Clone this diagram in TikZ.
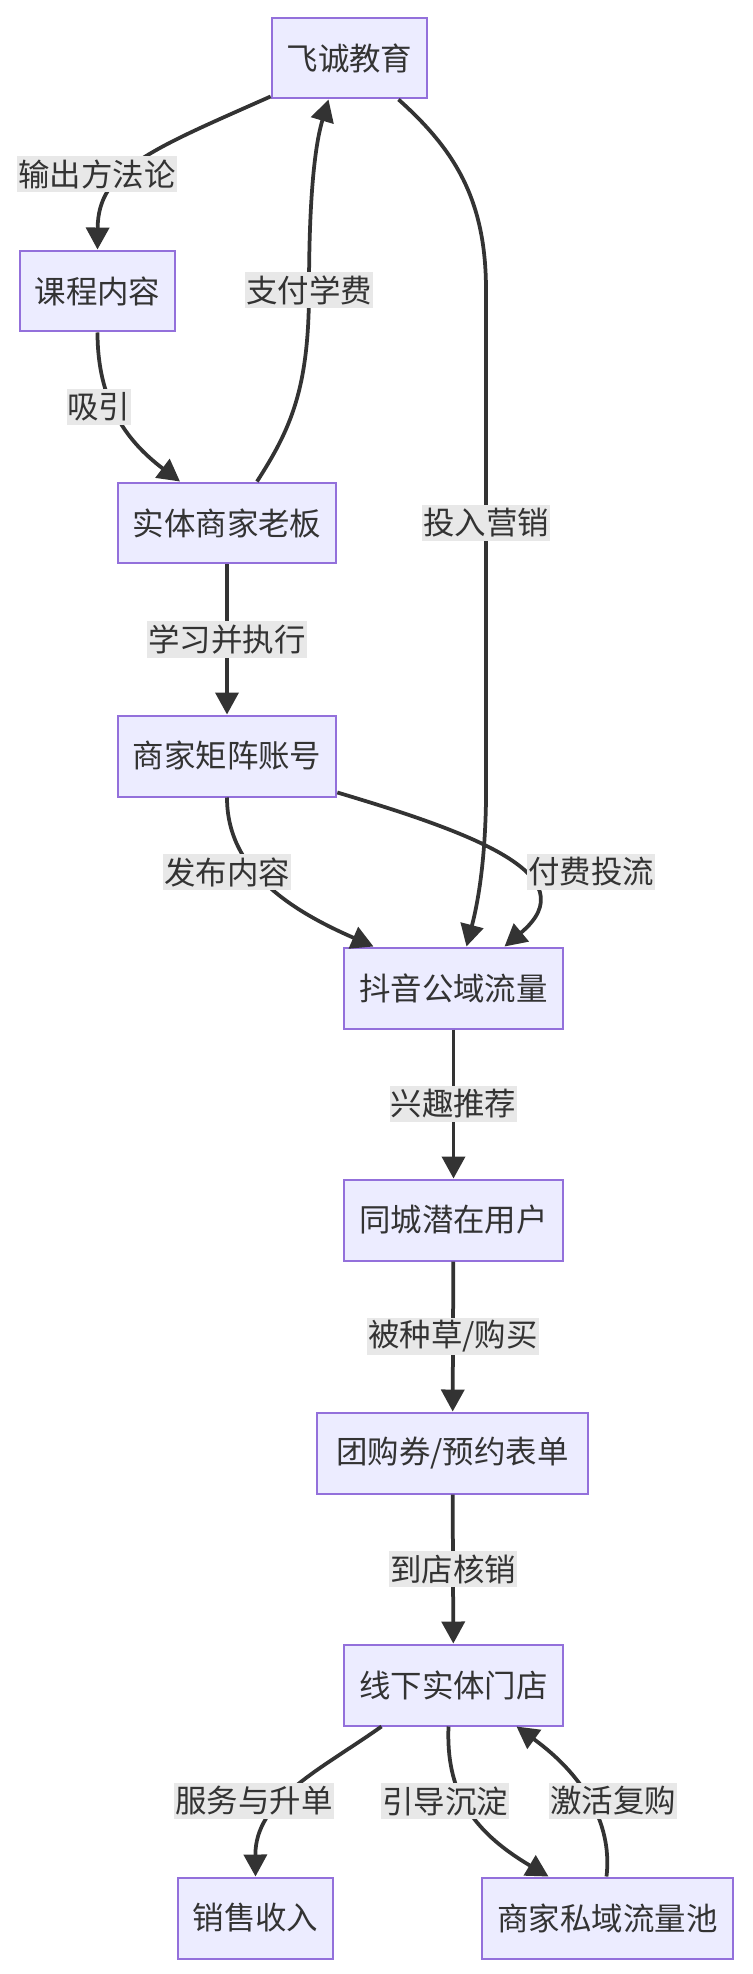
\documentclass[tikz,border=0pt]{standalone}
\usepackage{fontspec}
\setmainfont{Noto Sans CJK SC}
\usetikzlibrary{positioning,arrows.meta,calc}
\definecolor{boxfill}{HTML}{ECECFF}
\definecolor{boxline}{HTML}{9370DB}
\definecolor{inkgray}{HTML}{333333}
\definecolor{labelgray}{HTML}{E8E8E8}

\begin{document}
\begin{tikzpicture}[
  x=0.02cm, y=-0.02cm,
  box/.style={rectangle, draw=boxline, fill=boxfill, line width=0.04cm,
              inner xsep=0.3cm, minimum height=1.62cm, text=inkgray,
              font=\fontsize{17.9}{20}\selectfont},
  lbl/.style={rectangle, fill=labelgray, inner xsep=0.02cm, inner ysep=0pt,
              minimum height=0.73cm, text=inkgray,
              font=\fontsize{17.9}{20}\selectfont},
  arr/.style={-{Triangle[length=0.44cm,width=0.46cm]}, line width=0.075cm, draw=inkgray}
]
\useasboundingbox (0,0) rectangle (752,1974);

\node[box] (fc) at (349.5,58) {飞诚教育};
\node[box] (kc) at (97.5,291) {课程内容};
\node[box] (ss) at (227,523) {实体商家老板};
\node[box] (mz) at (227,756) {商家矩阵账号};
\node[box] (dy) at (453.5,988) {抖音公域流量};
\node[box] (tc) at (453.5,1220) {同城潜在用户};
\node[box, minimum width=5.42cm] (tg) at (452.5,1453) {团购券/预约表单};
\node[box] (xx) at (453.5,1685) {线下实体门店};
\node[box] (xs) at (255.5,1918) {销售收入};
\node[box] (sy) at (607.5,1918) {商家私域流量池};

\coordinate (l2) at (309,290);
\coordinate (l4) at (486,523);
\coordinate (b4) at (486,290);
\coordinate (b4e) at (486,800);

\draw[arr] ($(fc.south west)+(0,-3)$) .. controls (150,150) and (98,170) .. (kc.north);
\draw[arr] ($(ss.north)+(30,0)$) .. controls (290,430) and (309,390) .. (l2)
  .. controls (309,175) and (318,135) .. ($(fc.south)+(-21,0)$);
\draw[arr] (kc.south) .. controls (97.5,400) and (125,440) .. ($(ss.north)+(-47,0)$);
\draw[arr] ($(fc.south)+(49,0)$) .. controls (455,150) and (486,200) .. (b4) -- (l4) -- (b4e)
  .. controls (485,870) and (476,910) .. ($(dy.north)+(13,0)$);
\draw[arr] (ss) -- (mz);
\draw[arr] (mz.south) .. controls (227,870) and (290,910) .. ($(dy.north)+(-80,0)$);
\draw[arr] ($(mz.south east)+(0,-5)$) .. controls (470,832) and (590,875) .. ($(dy.north)+(51,0)$);
\draw[arr] (dy) -- (tc);
\draw[arr] (tc) -- (tg);
\draw[arr] (tg) -- (xx);
\draw[arr] ($(xx.south)+(-72,0)$) .. controls (320,1770) and (255,1800) .. (xs.north);
\draw[arr] ($(xx.south)+(-5,0)$) .. controls (446,1790) and (470,1830) .. ($(sy.north)+(-59,0)$);
\draw[arr] ($(sy.north)+(-1,0)$) .. controls (612,1830) and (590,1780) .. ($(xx.south)+(63,0)$);

\node[lbl] (t1) at (97,174) {输出方法论};
\node[lbl] (t2) at (l2) {支付学费};
\node[lbl] (t3) at (99,407) {吸引};
\node[lbl] (t4) at (l4) {投入营销};
\node[lbl] (t5) at ($(ss.south)!0.5!(mz.north)$) {学习并执行};
\node[lbl] (t6) at (227,872) {发布内容};
\node[lbl] (t7) at (591,872) {付费投流};
\node[lbl] (t8) at ($(dy.south)!0.5!(tc.north)$) {兴趣推荐};
\node[lbl] (t9) at ($(tc.south)!0.5!(tg.north)$) {被种草/购买};
\node[lbl] (t10) at ($(tg.south)!0.5!(xx.north)$) {到店核销};
\node[lbl] (t11) at (254,1801) {服务与升单};
\node[lbl] (t12) at (445,1801) {引导沉淀};
\node[lbl] (t13) at (613,1801) {激活复购};
\end{tikzpicture}
\end{document}
